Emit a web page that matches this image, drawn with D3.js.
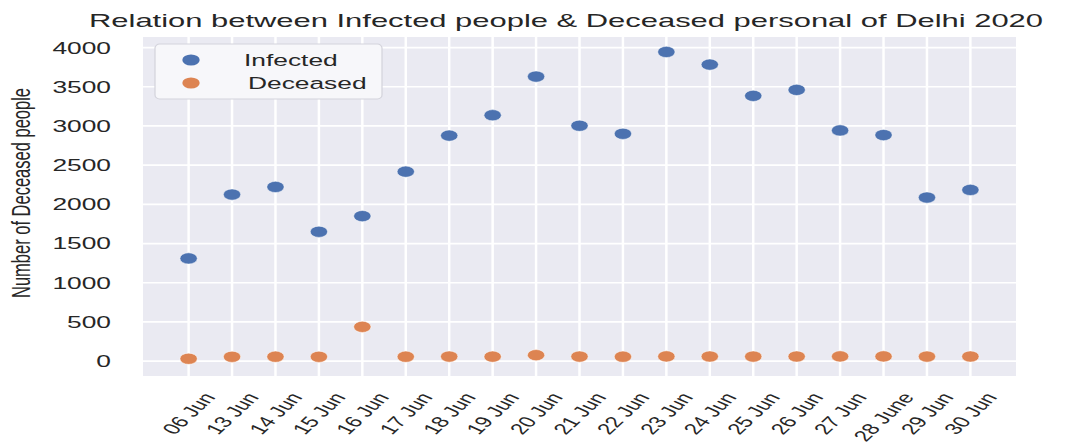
<!DOCTYPE html>
<html><head><meta charset="utf-8">
<script src="https://cdn.jsdelivr.net/npm/d3@7"></script>
<style>
body{margin:0;background:#fff}
svg{display:block}
text{font-family:"Liberation Sans",Arial,sans-serif;fill:#262626}
</style>
</head><body>
<svg id="c" width="1067" height="445"></svg>
<script>
const categories = ["06 Jun","13 Jun","14 Jun","15 Jun","16 Jun","17 Jun","18 Jun","19 Jun","20 Jun","21 Jun","22 Jun","23 Jun","24 Jun","25 Jun","26 Jun","27 Jun","28 June","29 Jun","30 Jun"];
const infected = [1310,2125,2222,1650,1850,2417,2877,3137,3630,3003,2900,3944,3783,3384,3460,2943,2884,2087,2184];
const deceased = [30,55,56,55,437,56,58,57,76,58,56,60,59,58,59,60,60,58,59];
const yTicks = [0,500,1000,1500,2000,2500,3000,3500,4000];
const seriesNames = ["Infected","Deceased"];
const seriesColors = ["#4c72b0","#dd8452"];
const titleText = "Relation between Infected people & Deceased personal of Delhi 2020";
const yLabel = "Number of Deceased people";

const SX = 1.55;               // horizontal stretch of the original picture
const ix = v => v / SX;        // outer px -> inner units
const svg = d3.select("#c");
const g = svg.append("g").attr("transform", `scale(${SX},1)`);

const plot = {left: ix(143), right: ix(1016), top: 37, bottom: 376};

const x = d3.scalePoint().domain(categories).range([plot.left, plot.right]).padding(1.05);
const y = d3.scaleLinear().domain([-190, 4135]).range([plot.bottom, plot.top]);

// axes background
g.append("rect").attr("x", plot.left).attr("y", plot.top)
  .attr("width", plot.right - plot.left).attr("height", plot.bottom - plot.top)
  .attr("fill", "#eaeaf2");

// grid
g.append("g").selectAll("line").data(yTicks).join("line")
  .attr("x1", plot.left).attr("x2", plot.right)
  .attr("y1", d => y(d)).attr("y2", d => y(d))
  .attr("stroke", "#fff").attr("stroke-width", 1.7);
g.append("g").selectAll("line").data(categories).join("line")
  .attr("x1", d => x(d)).attr("x2", d => x(d))
  .attr("y1", plot.top).attr("y2", plot.bottom)
  .attr("stroke", "#fff").attr("stroke-width", 1.6);

// y axis tick labels
const yAxis = g.append("g").attr("transform", `translate(${ix(111)},0)`)
  .call(d3.axisLeft(y).tickValues(yTicks).tickSize(0).tickPadding(0).tickFormat(d3.format("d")));
yAxis.select(".domain").remove();
yAxis.selectAll("text").attr("font-size", 17).style("font-family", '"Liberation Sans",Arial,sans-serif').attr("fill", "#262626");

// x tick labels (rotated, bbox-centered under tick, top aligned)
const ang = 55, rad = ang * Math.PI / 180, fs = 15.5;
const xl = g.append("g");
categories.forEach(c => {
  const t = xl.append("text").text(c).attr("font-size", fs)
    .attr("text-anchor", "middle").attr("dy", "0.35em");
  const L = t.node().getComputedTextLength();
  const hh = fs * 0.75;
  const half = (L / 2) * Math.sin(rad) + (hh / 2) * Math.cos(rad);
  const cy = 391 + half;
  t.attr("transform", `translate(${x(c)},${cy}) rotate(${-ang})`);
});

// y label
g.append("text").text(yLabel).attr("font-size", 16.5)
  .attr("text-anchor", "middle").attr("dy", "0.35em")
  .attr("transform", `translate(${ix(21)},193) rotate(-90)`);

// title
g.append("text").text(titleText).attr("font-size", 17.5)
  .attr("x", ix(566)).attr("y", 27).attr("text-anchor", "middle")
  .attr("textLength", ix(954)).attr("lengthAdjust", "spacingAndGlyphs");

// points
const series = [infected, deceased];
series.forEach((vals, i) => {
  g.append("g").selectAll("circle").data(vals).join("circle")
    .attr("cx", (d, j) => x(categories[j])).attr("cy", d => y(d))
    .attr("r", 5.6).attr("fill", seriesColors[i])
    .attr("stroke", "#fff").attr("stroke-width", 0.4);
});

// legend
const lg = g.append("g");
lg.append("rect").attr("x", ix(155)).attr("y", 44)
  .attr("width", ix(382) - ix(155)).attr("height", 55).attr("rx", 3).attr("ry", 4)
  .attr("fill", "#f7f7fa").attr("stroke", "#d4d4dc").attr("stroke-width", 0.8);
seriesNames.forEach((n, i) => {
  const yy = 60 + i * 23;
  lg.append("circle").attr("cx", ix(191)).attr("cy", yy).attr("r", 5.6).attr("fill", seriesColors[i]);
  lg.append("text").text(n).attr("x", ix(i === 0 ? 244 : 248)).attr("y", yy)
    .attr("dy", "0.35em").attr("font-size", 17);
});
</script>
</body></html>
